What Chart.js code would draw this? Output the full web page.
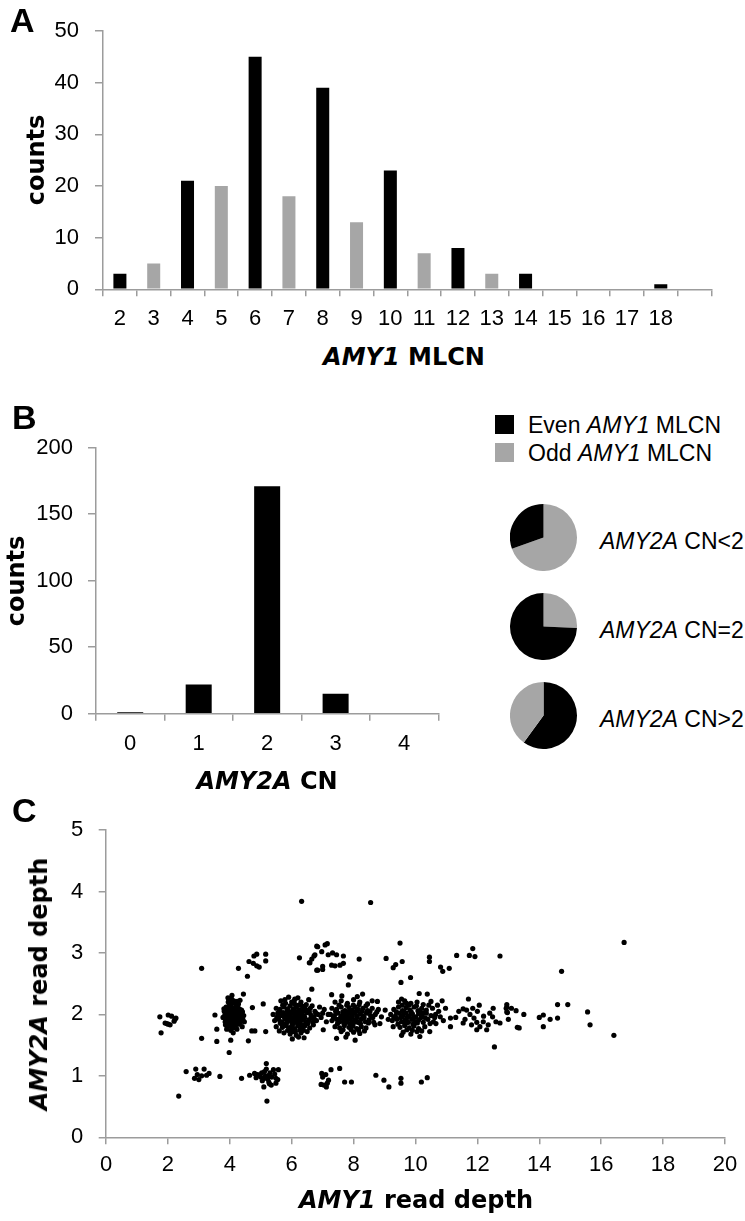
<!DOCTYPE html>
<html>
<head>
<meta charset="utf-8">
<script src="https://cdn.jsdelivr.net/npm/chart.js@4.4.1/dist/chart.umd.min.js"></script>
<style>
  html, body { margin:0; padding:0; background:#fff; }
  #wrap { position:relative; width:745px; height:1221px; overflow:hidden; background:#fff; }
  canvas { position:absolute; }
  .t { position:absolute; white-space:nowrap; line-height:1; color:#000; }
  .bt { font-family:"DejaVu Sans", sans-serif; font-weight:bold; font-size:24px; transform:translate(-50%,-50%); }
  .vt { font-family:"DejaVu Sans", sans-serif; font-weight:bold; font-size:24px; transform:translate(-50%,-50%) rotate(-90deg); }
  .lt { font-family:"Liberation Sans", Arial, sans-serif; font-size:23px; transform:translateY(-50%); }
  .letter { font-family:"Liberation Sans", Arial, sans-serif; font-weight:bold; font-size:34px; }
  .sq { position:absolute; width:19px; height:19px; }
</style>
</head>
<body>
<div id="wrap">
  <canvas id="cA" width="745" height="330" style="left:0;top:0;width:745px;height:330px"></canvas>
  <canvas id="cB" width="460" height="370" style="left:0;top:400px;width:460px;height:370px"></canvas>
  <canvas id="p1" width="67" height="67" style="left:510px;top:504px;width:67px;height:67px"></canvas>
  <canvas id="p2" width="67" height="67" style="left:510px;top:593px;width:67px;height:67px"></canvas>
  <canvas id="p3" width="67" height="67" style="left:510px;top:682px;width:67px;height:67px"></canvas>
  <canvas id="cC" width="745" height="431" style="left:0;top:790px;width:745px;height:431px"></canvas>

  <div class="t letter" style="left:10px;top:3px">A</div>
  <div class="t letter" style="left:12px;top:400px">B</div>
  <div class="t letter" style="left:12px;top:793px">C</div>

  <div class="t vt" style="left:36px;top:160px">counts</div>
  <div class="t bt" style="left:404px;top:357px"><i>AMY1</i> MLCN</div>

  <div class="t vt" style="left:16px;top:581px">counts</div>
  <div class="t bt" style="left:267px;top:781px"><i>AMY2A</i> CN</div>

  <div class="sq" style="left:495px;top:415px;background:#000"></div>
  <div class="sq" style="left:495px;top:443px;background:#a6a6a6"></div>
  <div class="t lt" style="left:528px;top:425px">Even <i>AMY1</i> MLCN</div>
  <div class="t lt" style="left:528px;top:453px">Odd <i>AMY1</i> MLCN</div>

  <div class="t lt" style="left:600px;top:541px"><i>AMY2A</i> CN&lt;2</div>
  <div class="t lt" style="left:600px;top:630px"><i>AMY2A</i> CN=2</div>
  <div class="t lt" style="left:600px;top:719px"><i>AMY2A</i> CN&gt;2</div>

  <div class="t vt" style="left:39px;top:984px"><i>AMY2A</i> read depth</div>
  <div class="t bt" style="left:416px;top:1200px"><i>AMY1</i> read depth</div>
</div>

<script>
// ---------- Panel A ----------
const mlcnLabels = ['2','3','4','5','6','7','8','9','10','11','12','13','14','15','16','17','18',''];
const mlcnCounts = [3,5,21,20,45,18,39,13,23,7,8,3,3,0,0,0,1,0];
const mlcnTicksMax = 50;

// ---------- Panel B ----------
const amy2aLabels = ['0','1','2','3','4'];
const amy2aCounts = [1,22,171,15,0];
const amy2aTicksMax = 200;

// ---------- Pies: even / odd counts per AMY2A CN group ----------
const pieLessThan2 = { even:7, odd:16 };
const pieEquals2   = { even:127, odd:44 };
const pieMoreThan2 = { even:9, odd:6 };

// ---------- Panel C: [AMY1 read depth, AMY2A read depth] ----------
const readDepthLowBand = [
 [2.35,0.67],[2.59,1.07],[2.90,1.11],[3.17,1.11],[2.86,0.96],[3.09,1.00],[3.25,1.01],[3.33,1.04],[2.95,1.02],[3.00,0.94],[3.68,0.99],[4.38,0.96],
 [4.64,1.01],[4.80,1.04],[4.95,1.01],[5.03,1.05],[5.10,0.96],[5.18,1.20],[5.18,1.11],[5.26,1.01],[5.26,0.90],[5.34,0.85],[5.41,1.10],[5.49,0.96],
 [5.57,1.10],[5.49,0.88],[5.10,0.82],[5.20,0.59],[4.90,1.02],[5.00,0.98],[5.15,1.00],[5.22,0.95],[5.30,1.05],[5.05,0.92],[5.35,0.98],[4.85,0.97],
 [5.12,1.07],[5.45,1.03],[5.55,0.94],[5.28,0.87],
 [6.97,1.04],[7.04,0.85],[7.12,0.82],[7.19,0.93],[7.27,1.10],[7.55,1.12],[6.95,0.86],[7.00,0.98],[7.10,1.02],[7.15,0.88],
 [7.71,0.90],[7.93,0.90],[8.72,1.01],[8.98,0.93],[9.14,0.82],[9.53,0.96],[9.53,0.88],[10.19,0.90],[10.38,0.97]
];
const readDepthHighBand = [
 [3.09,2.75],[4.28,2.75],[4.57,2.62],[4.78,2.95],[4.87,2.98],[5.16,2.98],[5.16,2.87],[4.62,2.86],[4.76,2.83],[4.87,2.79],[4.95,2.77],
 [6.25,2.92],[6.57,2.84],[6.65,2.90],[6.72,2.95],[6.84,3.10],[6.84,2.72],[6.65,2.41],
 [6.81,3.11],[6.97,3.02],[7.08,3.13],[7.15,3.15],[6.75,2.97],[6.59,2.84],[7.18,2.97],[7.32,3.00],[7.45,2.97],[7.67,2.95],[7.29,2.80],[7.40,2.79],
 [7.56,2.80],[7.67,2.83],[6.81,2.72],[7.00,2.73],[7.00,2.78],[8.18,2.90],[7.88,2.61],[7.83,2.48],[7.88,2.62],
 [9.05,2.91],[9.50,3.16],[9.28,2.76],[9.36,2.81],[9.57,2.86],[9.84,2.60],[9.53,2.52],[10.45,2.93],[10.45,2.86],[10.81,2.77],[10.88,2.70],
 [11.09,2.75],[11.33,2.96],[11.74,2.96],[11.85,3.07],[11.92,2.94],[12.73,2.95],[14.72,2.70],[16.74,3.17],
 [6.32,3.84],[8.55,3.82]
];
const readDepthMidBand = [
 // x ~ 2
 [1.74,1.96],[1.78,1.70],[1.91,1.86],[1.96,1.85],[2.01,1.99],[2.01,1.84],[2.07,1.83],[2.12,1.97],[2.20,1.89],[2.23,1.92],[2.26,1.94],
 // scattered 3-5
 [4.44,2.33],[4.73,2.11],[5.08,2.17],[3.52,1.99],[3.58,1.76],[3.09,1.61],[3.58,1.56],[3.98,1.38],[4.60,1.57],[4.71,1.73],[4.81,1.73],[5.16,1.72],[4.03,1.58],
 // x ~ 4
 [3.78,1.95],[3.82,2.05],[3.85,1.88],[3.88,2.12],[3.90,1.98],[3.92,1.80],[3.95,2.20],[3.96,2.02],[3.98,1.92],[4.00,2.08],[4.00,1.85],[4.02,1.97],
 [4.04,2.15],[4.05,1.90],[4.06,2.25],[4.08,2.03],[4.10,1.78],[4.10,1.95],[4.12,2.10],[4.14,1.88],[4.15,2.00],[4.17,2.18],[4.18,1.93],[4.20,1.83],
 [4.20,2.05],[4.22,1.97],[4.25,2.12],[4.27,1.90],[4.30,2.00],[4.32,1.86],[4.35,1.95],[4.38,2.07],[4.40,1.80],[4.42,1.92],[3.88,1.92],[3.93,2.12],
 [4.03,1.74],[4.07,2.08],[4.13,2.22],[4.23,1.76],[4.28,2.17],[3.84,1.99],[3.97,1.87],[4.16,1.93],[4.05,2.00],[4.19,1.98],[3.99,2.17],[4.11,1.70],
 [3.90,1.76],[4.45,1.98],
 [3.81,2.09],[3.86,1.83],[3.91,2.06],[3.94,1.94],[3.97,2.23],[4.01,1.81],[4.03,2.11],[4.06,1.87],[4.09,2.19],[4.11,2.01],[4.13,1.91],[4.16,2.06],
 [4.19,1.86],[4.21,2.14],[4.24,1.95],[4.26,2.03],[4.29,1.84],[4.31,2.09],[4.34,2.01],[4.37,1.89],[4.41,2.04],[3.95,1.83],[4.08,1.96],[4.18,2.02],
 [4.02,1.93],[3.87,2.02],[4.12,1.82],[4.24,2.21],[4.07,2.31],[3.94,2.27],[4.33,2.23],[4.47,1.88],
 // x ~ 6
 [5.65,2.22],[5.90,2.28],[6.10,2.25],[6.30,2.20],[6.55,2.24],[5.80,2.18],[6.00,2.20],
 [5.50,2.10],[5.62,2.08],[5.75,2.12],[5.85,2.06],[5.95,2.14],[6.05,2.09],[6.15,2.12],[6.25,2.07],[6.35,2.13],[6.45,2.08],[6.60,2.10],[6.75,2.05],[6.90,2.12],
 [5.40,2.00],[5.55,2.02],[5.65,1.98],[5.72,2.03],[5.80,1.99],[5.88,2.02],[5.95,1.97],[6.02,2.03],[6.10,1.99],[6.18,2.02],[6.25,1.96],[6.32,2.01],
 [6.40,1.98],[6.50,2.03],[6.62,1.99],[6.72,1.96],[6.85,2.00],[7.00,2.02],
 [5.45,1.90],[5.58,1.92],[5.68,1.88],[5.78,1.93],[5.86,1.89],[5.93,1.92],[6.00,1.87],[6.07,1.91],[6.14,1.88],[6.20,1.93],[6.28,1.89],[6.36,1.92],
 [6.45,1.88],[6.55,1.91],[6.68,1.87],[6.80,1.90],
 [5.50,1.80],[5.70,1.79],[5.82,1.82],[5.92,1.78],[6.00,1.81],[6.10,1.77],[6.20,1.82],[6.30,1.79],[6.42,1.81],[6.58,1.78],[6.70,1.83],
 [5.75,1.70],[5.95,1.68],[6.05,1.72],[6.15,1.66],[6.30,1.70],[6.50,1.72],[5.60,1.73],[6.02,1.60],[6.22,1.63],[6.40,1.62],
 [6.95,1.95],[7.05,2.08],[7.12,1.88],[7.18,2.00],
 [5.52,1.95],[5.60,2.05],[5.68,1.84],[5.71,2.15],[5.76,1.96],[5.83,1.86],[5.87,2.09],[5.90,1.95],[5.97,2.04],[6.03,1.84],[6.06,1.95],[6.09,2.17],
 [6.12,2.05],[6.16,1.96],[6.19,1.85],[6.23,2.15],[6.26,2.03],[6.29,1.93],[6.33,1.83],[6.38,2.06],[6.42,1.95],[6.47,2.16],[6.52,1.85],[6.57,2.04],
 [6.63,1.94],[6.66,2.14],[6.74,1.91],[6.78,2.02],[5.98,1.75],[6.12,1.72],[6.26,1.75],[5.87,1.74],[6.38,1.74],[6.08,2.22],[6.20,2.27],[5.78,2.24],
 [5.63,1.86],[5.57,1.97],
 // x ~ 8
 [7.40,2.20],[7.60,2.22],[7.80,2.18],[8.00,2.24],[8.20,2.20],[8.45,2.17],[8.60,2.22],
 [7.30,2.10],[7.45,2.08],[7.60,2.12],[7.72,2.06],[7.85,2.11],[7.95,2.07],[8.05,2.12],[8.15,2.08],[8.30,2.10],[8.45,2.06],[8.60,2.10],[8.80,2.08],
 [7.25,2.00],[7.38,1.98],[7.50,2.02],[7.62,1.97],[7.72,2.01],[7.80,1.97],[7.88,2.02],[7.95,1.98],[8.03,2.02],[8.10,1.97],[8.20,2.01],[8.30,1.97],
 [8.42,2.02],[8.55,1.98],[8.70,2.00],[8.90,1.96],
 [7.30,1.90],[7.45,1.92],[7.55,1.88],[7.68,1.91],[7.78,1.87],[7.87,1.92],[7.96,1.88],[8.05,1.91],[8.14,1.87],[8.25,1.92],[8.38,1.88],[8.50,1.91],[8.65,1.87],
 [7.40,1.80],[7.55,1.78],[7.70,1.82],[7.85,1.79],[7.98,1.81],[8.10,1.77],[8.25,1.80],[8.40,1.78],[8.69,1.83],
 [7.60,1.72],[7.80,1.68],[8.00,1.71],[8.20,1.69],[7.02,1.75],[7.45,1.61],[8.05,1.58],[7.75,1.63],
 [7.29,2.32],[7.62,2.30],[8.29,2.33],[8.12,2.29],[8.77,2.21],[9.02,2.07],[9.12,1.92],[9.28,1.80],
 [7.35,1.95],[7.42,2.05],[7.48,1.85],[7.53,2.15],[7.58,1.95],[7.65,2.04],[7.69,1.85],[7.74,1.95],[7.78,2.15],[7.83,2.04],[7.90,1.84],[7.93,1.95],
 [7.99,2.15],[8.02,1.87],[8.08,2.05],[8.12,1.95],[8.18,2.16],[8.22,1.85],[8.28,2.05],[8.34,1.95],[8.40,2.14],[8.48,1.86],[8.53,2.05],[8.62,1.95],
 [8.75,2.04],[8.85,1.85],[7.66,1.75],[7.92,1.75],[8.16,1.74],[8.35,1.73],
 // x ~ 10
 [9.45,2.20],[9.65,2.22],[9.85,2.18],[10.05,2.20],[10.25,2.16],
 [9.30,2.08],[9.45,2.12],[9.58,2.06],[9.70,2.11],[9.82,2.07],[9.95,2.12],[10.08,2.06],[10.20,2.10],[10.35,2.07],[10.55,2.10],
 [9.20,2.00],[9.35,1.97],[9.48,2.02],[9.60,1.98],[9.70,2.02],[9.80,1.97],[9.90,2.01],[10.00,1.96],[10.10,2.01],[10.22,1.97],[10.35,2.02],[10.50,1.98],
 [10.65,2.00],[10.80,1.96],
 [9.25,1.90],[9.40,1.92],[9.55,1.88],[9.66,1.91],[9.77,1.87],[9.88,1.92],[9.98,1.88],[10.10,1.91],[10.25,1.87],[10.40,1.92],[10.58,1.88],[10.90,1.90],
 [9.50,1.79],[9.65,1.82],[9.80,1.78],[9.95,1.81],[10.10,1.77],[10.30,1.80],[10.66,1.85],
 [9.60,1.71],[9.85,1.68],[10.05,1.72],[10.46,1.72],
 [9.55,2.25],[9.71,2.18],[10.12,2.34],[10.38,2.33],[9.55,1.66],[10.14,1.64],[10.50,2.21],[10.71,2.15],[10.86,2.22],[10.97,2.10],[11.13,1.94],[11.13,1.80],
 [9.30,1.95],[9.38,2.04],[9.43,1.84],[9.52,1.95],[9.57,2.15],[9.63,2.04],[9.68,1.85],[9.74,1.95],[9.78,2.15],[9.86,2.04],[9.92,1.84],[9.96,1.95],
 [10.03,2.14],[10.06,1.86],[10.15,2.04],[10.18,1.95],[10.28,2.03],[10.32,1.94],[10.43,2.15],[10.47,1.85],[10.62,1.95],[10.75,2.05],[9.72,1.75],[9.90,1.74],
 [10.20,1.73],
 // x ~ 12
 [11.54,1.86],[11.71,2.25],[11.76,2.00],[11.89,1.94],[11.98,1.87],[12.06,2.15],[12.19,1.88],[12.30,1.75],[12.51,2.10],[12.49,1.96],[12.60,1.88],
 [11.98,1.75],[11.65,2.07],[12.95,2.12],[12.95,2.04],[12.55,1.47],[11.54,2.09],[11.81,1.83],[12.35,1.83],[12.08,1.80],[12.73,1.86],
 [11.30,1.95],[11.40,2.05],[11.60,1.92],[12.00,2.05],[12.20,1.97],[12.40,2.02],[11.85,2.10],
 // x > 13
 [13.29,1.79],[13.35,1.78],[12.93,2.10],[12.97,2.03],[13.25,2.06],[12.95,2.16],[14.00,1.95],[14.13,1.99],[14.35,1.92],[14.59,1.94],[14.13,1.80],
 [14.59,2.16],[14.92,2.16],[15.56,2.04],[15.64,1.83],[16.41,1.66],[13.00,1.92],[13.50,2.00],[13.10,2.10]
];
const readDepthXTicksMax = 20;
const readDepthYTicksMax = 5;

// ---------- common styling ----------
const BLACK = '#000000';
const GREY = '#a6a6a6';
const AXIS = '#9c9c9c';
const tickFont = { family: '"Liberation Sans", Arial, sans-serif', size: 22 };
Chart.defaults.animation = false;
Chart.defaults.responsive = false;
Chart.defaults.devicePixelRatio = 1;
Chart.defaults.plugins.legend.display = false;
Chart.defaults.plugins.tooltip.enabled = false;
Chart.defaults.color = '#000';

function xCat(tickLen, pad, height) {
  return {
    offset: true,
    grid: { offset: true, drawOnChartArea: false, tickLength: tickLen, color: AXIS, lineWidth: 1.5 },
    border: { color: AXIS, width: 1.5 },
    ticks: { font: tickFont, color: '#000', padding: pad, maxRotation: 0, autoSkip: false },
    afterFit: s => { s.height = height; }
  };
}
function yLin(max, step, tickLen, pad, width) {
  return {
    min: 0, max: max,
    grid: { drawOnChartArea: false, tickLength: tickLen, color: AXIS, lineWidth: 1.5 },
    border: { color: AXIS, width: 1.5 },
    ticks: { stepSize: step, font: tickFont, color: '#000', padding: pad },
    afterFit: s => { s.width = width; }
  };
}

// Panel A
new Chart(document.getElementById('cA'), {
  type: 'bar',
  data: {
    labels: mlcnLabels,
    datasets: [{
      data: mlcnCounts,
      backgroundColor: mlcnLabels.map(l => (parseInt(l, 10) % 2 === 0 ? BLACK : GREY)),
      barPercentage: 0.385, categoryPercentage: 1
    }]
  },
  options: {
    layout: { padding: { top: 31, right: 33.5, left: 0, bottom: 0 } },
    scales: { x: xCat(7, 9, 40.7), y: yLin(mlcnTicksMax, 10, 8, 16, 103) }
  }
});

// Panel B
new Chart(document.getElementById('cB'), {
  type: 'bar',
  data: {
    labels: amy2aLabels,
    datasets: [{ data: amy2aCounts, backgroundColor: BLACK, barPercentage: 0.38, categoryPercentage: 1 }]
  },
  options: {
    layout: { padding: { top: 47.7, right: 21.7, left: 0, bottom: 0 } },
    scales: { x: xCat(7, 10, 56.3), y: yLin(amy2aTicksMax, 50, 8, 15, 96) }
  }
});

// Pies
function pie(id, values, colors) {
  new Chart(document.getElementById(id), {
    type: 'pie',
    data: { datasets: [{ data: values, backgroundColor: colors, borderWidth: 0 }] },
    options: { layout: { padding: 0 } }
  });
}
pie('p1', [pieLessThan2.odd, pieLessThan2.even], [GREY, BLACK]);
pie('p2', [pieEquals2.odd, pieEquals2.even], [GREY, BLACK]);
pie('p3', [pieMoreThan2.even, pieMoreThan2.odd], [BLACK, GREY]);

// Panel C
const allPoints = readDepthLowBand.concat(readDepthMidBand, readDepthHighBand);
new Chart(document.getElementById('cC'), {
  type: 'scatter',
  data: {
    datasets: [{
      data: allPoints.map(p => ({ x: p[0], y: p[1] })),
      backgroundColor: BLACK, borderWidth: 0, pointRadius: 2.6
    }]
  },
  options: {
    layout: { padding: { top: 40, right: 20, left: 0, bottom: 0 } },
    scales: {
      x: {
        type: 'linear', min: 0, max: readDepthXTicksMax,
        grid: { drawOnChartArea: false, tickLength: 7, color: AXIS, lineWidth: 1.5 },
        border: { color: AXIS, width: 1.5 },
        ticks: { stepSize: 2, font: tickFont, color: '#000', padding: 7.5, maxRotation: 0 },
        afterFit: s => { s.height = 83.7; }
      },
      y: yLin(readDepthYTicksMax, 1, 7.3, 15.4, 106)
    }
  }
});
</script>
</body>
</html>
